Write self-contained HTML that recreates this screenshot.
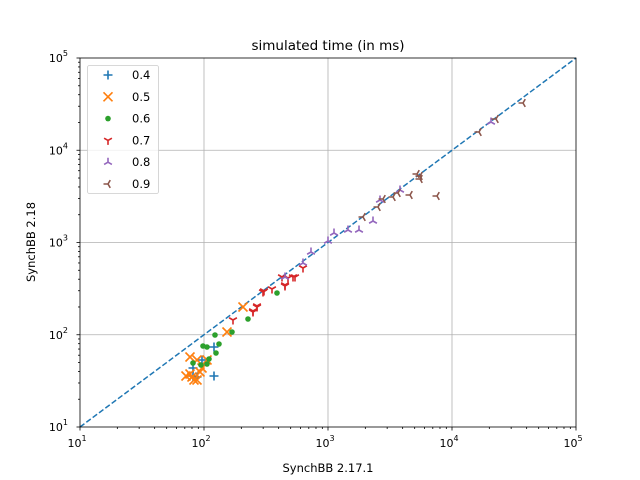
<!DOCTYPE html>
<html><head><meta charset="utf-8"><style>
html,body{margin:0;padding:0;background:#fff;width:640px;height:480px;overflow:hidden}
text{font-family:"DejaVu Sans","Liberation Sans",sans-serif;fill:#000}
</style></head><body>
<svg id="s" width="640" height="480" xmlns="http://www.w3.org/2000/svg"></svg>
<script>
const s=document.getElementById('s');let h='';
const X0=80,X1=576,Y0=427,Y1=58;
const xp=v=>X0+(Math.log10(v)-1)*(X1-X0)/4, yp=v=>Y0-(Math.log10(v)-1)*(Y0-Y1)/4;
for(let e=2;e<=4;e++){let x=xp(10**e),y=yp(10**e);
h+=`<line x1="${x}" y1="${Y1}" x2="${x}" y2="${Y0}" stroke="#b0b0b0" stroke-width="0.8"/>`;
h+=`<line x1="${X0}" y1="${y}" x2="${X1}" y2="${y}" stroke="#b0b0b0" stroke-width="0.8"/>`;}
h+=`<line x1="${X0}" y1="${Y0}" x2="${X1}" y2="${Y1}" stroke="#1f77b4" stroke-width="1.5" stroke-dasharray="5.5,2.4"/>`;
for(let e=1;e<=5;e++){for(let m=1;m<10;m++){if(e==5&&m>1)break;let v=m*10**e,x=xp(v),y=yp(v),L=m==1?3.5:2;
h+=`<line x1="${x}" y1="${Y0}" x2="${x}" y2="${Y0+L}" stroke="#000" stroke-width="0.8"/>`;
h+=`<line x1="${X0}" y1="${y}" x2="${X0-L}" y2="${y}" stroke="#000" stroke-width="0.8"/>`;
if(m==1){h+=`<text x="${x-3}" y="${Y0+20}" font-size="11" text-anchor="middle">10<tspan font-size="8" dy="-6">${e}</tspan></text>`;
h+=`<text x="${X0-12}" y="${y+4}" font-size="11" text-anchor="end">10<tspan font-size="8" dy="-6">${e}</tspan></text>`;}}}
function mk(t,x,y,c){const r=4.5;
if(t=='+')return `<path d="M${x-r} ${y}h${2*r}M${x} ${y-r}v${2*r}" stroke="${c}" stroke-width="1.6"/>`;
if(t=='x')return `<path d="M${x-r} ${y-r}l${2*r} ${2*r}M${x-r} ${y+r}l${2*r} ${-2*r}" stroke="${c}" stroke-width="1.6"/>`;
if(t=='o')return `<circle cx="${x}" cy="${y}" r="2.8" fill="${c}"/>`;
let a=t=='v'?[90,210,330]:t=='^'?[270,30,150]:[180,300,60];
return `<path d="${a.map(d=>`M${x} ${y}l${(r*Math.cos(d*Math.PI/180)).toFixed(2)} ${(r*Math.sin(d*Math.PI/180)).toFixed(2)}`).join('')}" stroke="${c}" stroke-width="1.6"/>`;}
const S=[
['+','#1f77b4',[[214,347],[193,368],[214,376],[202,360],[197,377],[193,376]]],
['x','#ff7f0e',[[190,357],[197,360],[186,376],[192,377],[197,380],[202,368],[227,332],[243,307],[207,360],[190,374],[194,380],[200,372]]],
['o','#2ca02c',[[203,346],[207,347],[215,335],[219,344],[216,353],[232,332],[248,319],[277,293],[193,363],[201,365],[207,364],[209,359]]],
['v','#d62728',[[233,320],[253,311],[257,306],[263,292],[272,289],[264,291],[282,277],[285,285],[288,278],[293,277],[295,277],[303,268],[285,286],[257,307],[253,312]]],
['^','#9467bd',[[285,277],[303,263],[311,252],[328,241],[334,233],[348,230],[359,230],[373,221],[380,200],[400,190],[491,122]]],
['<','#8c564b',[[363,217],[378,207],[383,199],[393,197],[398,193],[410,195],[417,174],[420,179],[420,176],[479,132],[496,119],[523,103],[437,196]]]];
S.forEach(([t,c,p])=>p.forEach(([x,y])=>h+=mk(t,x,y,c)));
h+=`<rect x="${X0}" y="${Y1}" width="${X1-X0}" height="${Y0-Y1}" fill="none" stroke="#000" stroke-width="0.8"/>`;
h+=`<rect x="87.5" y="65.5" width="71" height="128" rx="2" fill="#fff" fill-opacity="0.8" stroke="#ccc" stroke-width="0.8"/>`;
['0.4','0.5','0.6','0.7','0.8','0.9'].forEach((l,i)=>{let y=75+i*21.8;h+=mk(S[i][0],108,y,S[i][1]);h+=`<text x="132" y="${y+4}" font-size="11.5">${l}</text>`;});
h+=`<text x="328" y="50" font-size="13.5" text-anchor="middle">simulated time (in ms)</text>`;
h+=`<text x="328" y="472" font-size="11.5" text-anchor="middle">SynchBB 2.17.1</text>`;
h+=`<text transform="translate(35,242) rotate(-90)" font-size="11.5" text-anchor="middle">SynchBB 2.18</text>`;
s.innerHTML=h;
</script>
</body></html>
